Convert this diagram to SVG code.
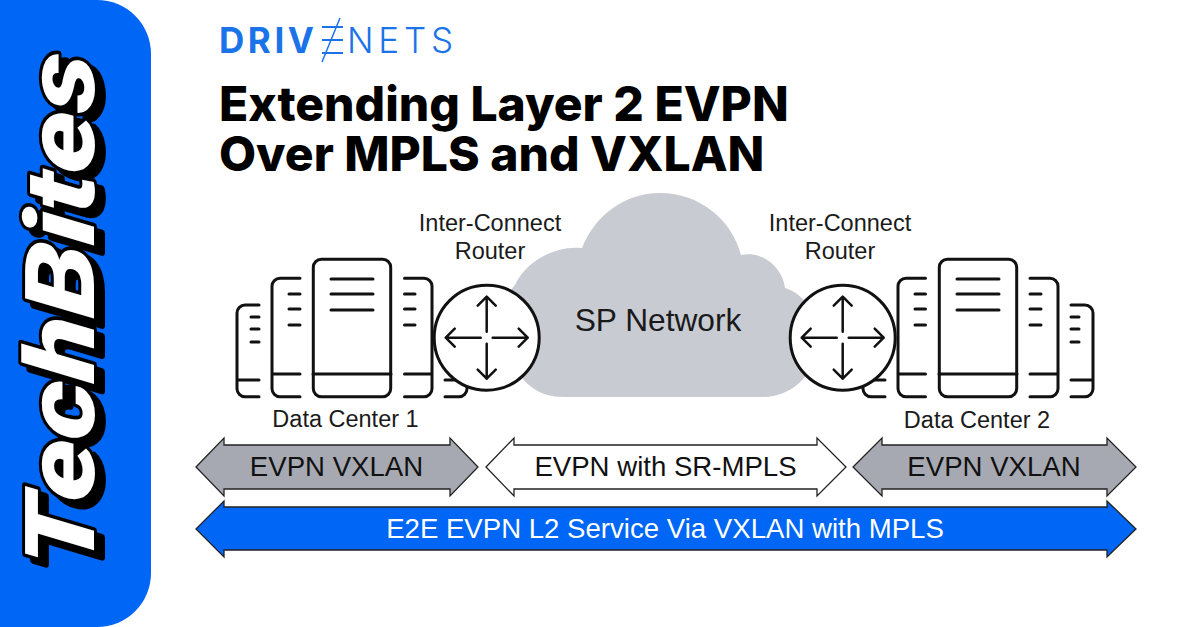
<svg xmlns="http://www.w3.org/2000/svg" width="1200" height="627" viewBox="0 0 1200 627">
<style>
.lab{font-family:"Liberation Sans",Arial,sans-serif;font-size:23.500px;fill:#1a1a1a;text-anchor:middle}
.big{font-family:"Liberation Sans",Arial,sans-serif;font-size:27.600px;text-anchor:middle}
.title{font-family:"Inter","Liberation Sans",sans-serif;font-weight:800;font-size:48px;fill:#000}
.ln{fill:none;stroke:#111;stroke-width:3;stroke-linecap:round;stroke-linejoin:round}
.rt{fill:#fff;stroke:#111;stroke-width:3}
.ar{fill:none;stroke:#111;stroke-width:2.500;stroke-linecap:round;stroke-linejoin:round}
.tb{font-family:"Roboto","Liberation Sans",sans-serif;font-weight:900;font-style:italic;font-size:97px}
</style>
<defs>
<g id="rack">
<rect x="313.300" y="259.300" width="77.400" height="137.400" rx="8" class="ln"/>
<path class="ln" d="M313 374H391M331 279H373M331 294H373M331 310H373"/>
<path class="ln" d="M300 278.300H280a8 8 0 0 0-8 8V388.700a8 8 0 0 0 8 8H300M272 374H300M289 294H300M289 309H300M289 325H300"/>
<path class="ln" d="M404.500 278.300H424a8 8 0 0 1 8 8V388.700a8 8 0 0 1-8 8H404.500M404.500 374H432M404.500 294H415M404.500 309H415M404.500 325H415"/>
<path class="ln" d="M259 305H245a8 8 0 0 0-8 8V388.700a8 8 0 0 0 8 8H259M237 380H259M251 317H259M251 329H259M251 342H259"/>
<path class="ln" d="M445 380H460M445 396.700H459a8 8 0 0 0 8-8V380"/>
</g>
<g id="router">
<circle r="52.500" class="rt"/>
<path class="ar" d="M0-41V-6M-9-32L0-41L9-32M0 6V41M-9 32L0 41L9 32M-41 0H-6M-32-9L-41 0L-32 9M6 0H41M32-9L41 0L32 9"/>
</g>
</defs>
<rect width="1200" height="627" fill="#fff"/>
<g id="panel"><path d="M0 0H97a54 54 0 0 1 54 54V573a54 54 0 0 1-54 54H0Z" fill="#0066f5"/></g>
<g id="techbites">
<g transform="translate(94,570) rotate(-90) skewX(-5) scale(1.205,1)">
<text class="tb" x="-5" y="8" fill="#000" stroke="#000" stroke-width="6" stroke-linejoin="round">TechBites</text>
<text class="tb" x="0" y="0" fill="#fff" stroke="#000" stroke-width="6" stroke-linejoin="round" paint-order="stroke">TechBites</text>
</g>
</g>
<g id="logo" fill="#1a73e8">
<text x="219" y="53" font-family="Inter,'Liberation Sans',sans-serif" font-weight="700" font-size="35" textLength="95" lengthAdjust="spacing">DRIV</text>
<path d="M322 27H343M322 40H343M322 53H343" stroke="#1a73e8" stroke-width="2" fill="none"/>
<path d="M340 18L322 62" stroke="#1a73e8" stroke-width="1.500" fill="none"/>
<text x="347" y="53" font-family="Inter,'Liberation Sans',sans-serif" font-weight="300" font-size="35" textLength="106" lengthAdjust="spacing">NETS</text>
</g>
<text class="title" x="219" y="121">Extending Layer 2 EVPN</text>
<text class="title" x="219" y="171">Over MPLS and VXLAN</text>
<g id="cloud"><path d="M563 397C540 397 527 385 520 375C495 350 500 300 515 285C525 262 555 245 582 248C595 215 625 193 660 193C700 193 732 220 741 255C765 250 783 270 785 288C800 292 818 310 818 340C818 370 795 397 763 397Z" fill="#c9cbd3"/></g>
<text class="big" x="658" y="331" fill="#1a1a1a" style="font-size:31.700px">SP Network</text>
<g id="dc1"><use href="#rack"/></g>
<g id="dc2"><use href="#rack" transform="matrix(-1 0 0 1 1330 0)"/></g>
<g id="router1"><use href="#router" x="486.700" y="337.700"/></g>
<g id="router2"><use href="#router" x="842.700" y="337.700"/></g>
<text class="lab" x="490" y="231">Inter-Connect</text>
<text class="lab" x="490" y="259">Router</text>
<text class="lab" x="840" y="231">Inter-Connect</text>
<text class="lab" x="840" y="259">Router</text>
<text class="lab" x="345.500" y="427">Data Center 1</text>
<text class="lab" x="977" y="428">Data Center 2</text>
<g id="connectors" stroke="#222" stroke-width="1.300">
<path fill="#a7a9b2" d="M196 467L224 438V445H450V438L478 467L450 496V489H224V496Z"/>
<path fill="#fff" d="M486 467L514 438V445H817V438L846 467L817 496V489H514V496Z"/>
<path fill="#a7a9b2" d="M853 467L882 438V445H1107V438L1136 467L1107 496V489H882V496Z"/>
<path fill="#0066f5" d="M196 529L224 501V507H1107V501L1136 529L1107 557V550H224V557Z"/>
</g>
<text class="big" x="336.500" y="476" fill="#111">EVPN VXLAN</text>
<text class="big" x="665.500" y="476" fill="#111">EVPN with SR-MPLS</text>
<text class="big" x="994" y="476" fill="#111">EVPN VXLAN</text>
<text class="big" x="665" y="538" fill="#fff">E2E EVPN L2 Service Via VXLAN with MPLS</text>
</svg>
